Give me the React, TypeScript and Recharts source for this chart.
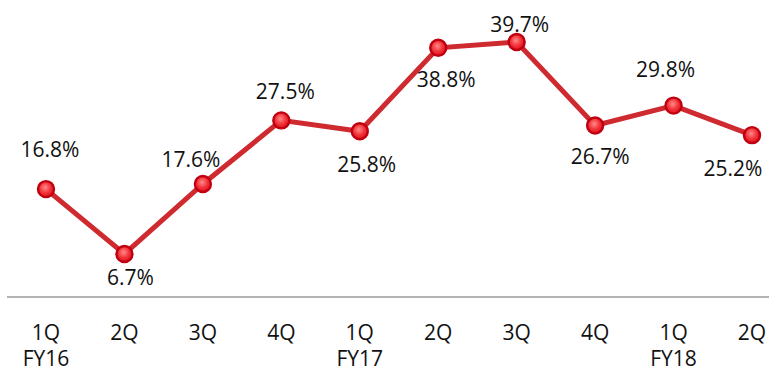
import { LineChart, Line, XAxis, YAxis, LabelList } from 'recharts'

// 분기별 비율 (%)
const quarters = ['1Q', '2Q', '3Q', '4Q', '1Q', '2Q', '3Q', '4Q', '1Q', '2Q']
const fiscalYears = ['FY16', '', '', '', 'FY17', '', '', '', 'FY18', '']
const rates = [16.8, 6.7, 17.6, 27.5, 25.8, 38.8, 39.7, 26.7, 29.8, 25.2]

// 라벨 위치 보정 (점 기준 px)
const labelDx = [4, 6, -12, 4, 7, 8, 3, 5, -8, -19]
const labelDy = [-40, 23, -25, -29, 33, 31, -18, 30, -37, 33]

const data = rates.map((v, i) => ({ q: quarters[i], fy: fiscalYears[i], rate: v }))

const FONT = '"Open Sans", "Noto Sans", sans-serif'
const LINE = '#cf2a2f'

function QuarterTick({ x, y, payload }: any) {
  const i = payload.index
  return (
    <g>
      <text x={x} y={y + 35} textAnchor="middle" dominantBaseline="central"
        fontSize={21} fontFamily={FONT} fill="#111">{quarters[i]}</text>
      {fiscalYears[i] && (
        <text x={x} y={y + 61} textAnchor="middle" dominantBaseline="central"
          fontSize={21} fontFamily={FONT} fill="#111">{fiscalYears[i]}</text>
      )}
    </g>
  )
}

function RateLabel({ x, y, value, index }: any) {
  return (
    <text x={x + labelDx[index]} y={y + labelDy[index]} textAnchor="middle" dominantBaseline="central"
      fontSize={21} fontFamily={FONT} fill="#111">
      {value.toFixed(1)}%
    </text>
  )
}

function Marker({ cx, cy }: any) {
  return <circle cx={cx} cy={cy} r={8} fill="url(#dotFill)" stroke="#c00010" strokeWidth={2.4} />
}

export default function App() {
  return (
    <div style={{ position: 'absolute', left: 0, top: 0 }}>
      <LineChart width={769} height={373} data={data}
        margin={{ top: 8, right: 0, bottom: 0, left: 7 }}>
        <defs>
          <radialGradient id="dotFill" cx="0.45" cy="0.4" r="0.6">
            <stop offset="0%" stopColor="#ff8a8a" />
            <stop offset="55%" stopColor="#f2353b" />
            <stop offset="100%" stopColor="#e0101c" />
          </radialGradient>
        </defs>
        <XAxis dataKey="q" interval={0} height={76} padding={{ left: 39, right: 17 }}
          axisLine={{ stroke: '#9a9a9a', strokeWidth: 1.5 }} tickLine={false}
          tickSize={0} tickMargin={0} tick={<QuarterTick />} />
        <YAxis hide domain={[0, 45]} />
        <Line dataKey="rate" stroke={LINE} strokeWidth={5} isAnimationActive={false}
          dot={<Marker />} activeDot={false}>
          <LabelList dataKey="rate" content={<RateLabel />} />
        </Line>
      </LineChart>
    </div>
  )
}
